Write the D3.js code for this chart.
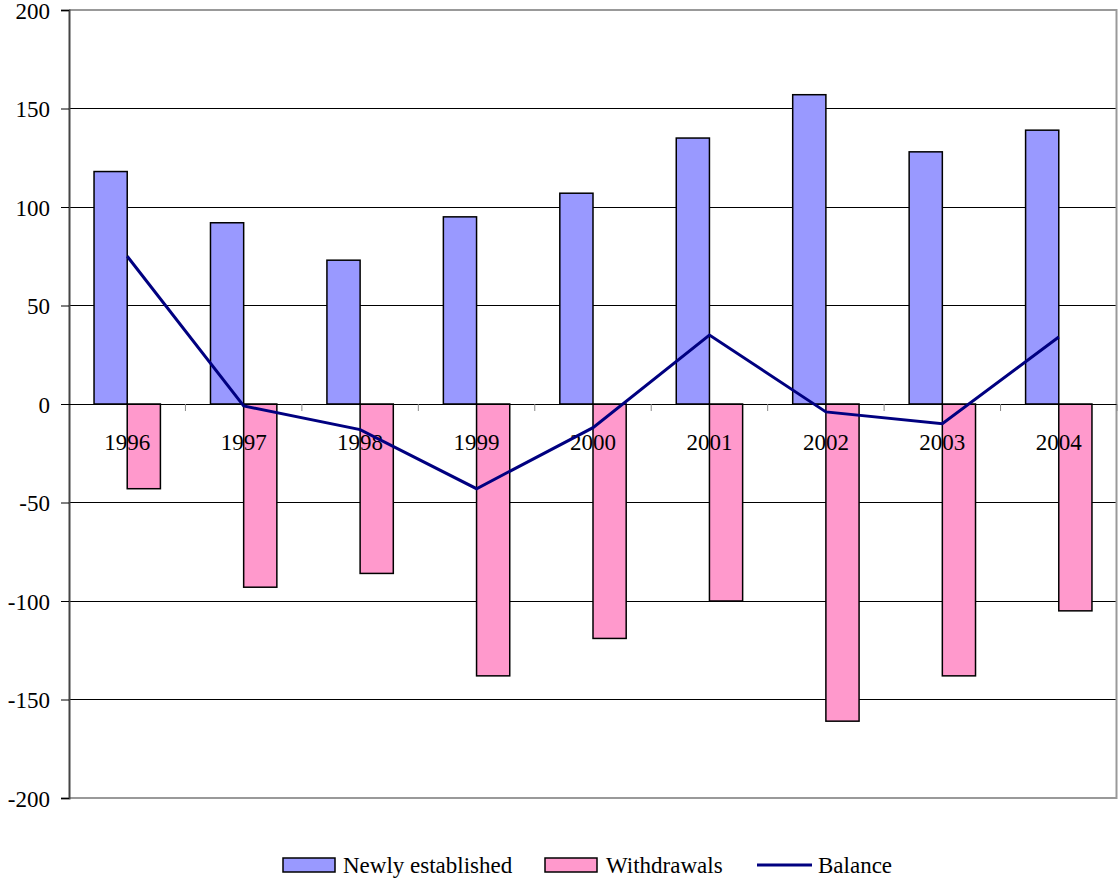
<!DOCTYPE html>
<html>
<head>
<meta charset="utf-8">
<script src="https://cdn.jsdelivr.net/npm/d3@7/dist/d3.min.js"></script>
<style>
  body { margin: 0; background: #fff; }
</style>
</head>
<body>
<svg id="canvas" width="1118" height="882"></svg>
<script>
const years = ["1996", "1997", "1998", "1999", "2000", "2001", "2002", "2003", "2004"];
const newlyEstablished = [118, 92, 73, 95, 107, 135, 157, 128, 139];
const withdrawals = [-43, -93, -86, -138, -119, -100, -161, -138, -105];
const balance = [75, -1, -13, -43, -12, 35, -4, -10, 34];
const yTicks = [-200, -150, -100, -50, 0, 50, 100, 150, 200];

const serif = "'Liberation Serif', 'Times New Roman', Times, 'DejaVu Serif', serif";
const margin = { top: 10, right: 1, bottom: 84, left: 69 };
const width = 1118, height = 882;
const svg = d3.select("#canvas");

const x = d3.scaleBand().domain(years).range([margin.left, width - margin.right]);
const y = d3.scaleLinear().domain([-200, 200]).range([height - margin.bottom, margin.top]);
const barW = x.bandwidth() * 0.285;

// gridlines
svg.append("g")
  .selectAll("line")
  .data(yTicks.filter(d => d > -200 && d < 200))
  .enter().append("line")
  .attr("x1", margin.left).attr("x2", width - margin.right)
  .attr("y1", d => y(d)).attr("y2", d => y(d))
  .attr("stroke", "#000").attr("stroke-width", 1).attr("shape-rendering", "crispEdges");

// plot border (top, right, bottom)
svg.append("path")
  .attr("d", `M${margin.left},${y(200)}H${width - margin.right - 0.5}V${y(-200)}H${margin.left}`)
  .attr("fill", "none").attr("stroke", "#999").attr("stroke-width", 2);

// bars
svg.append("g").selectAll("rect")
  .data(years)
  .enter().append("rect")
  .attr("x", d => x(d) + x.bandwidth() / 2 - barW)
  .attr("y", (d, i) => y(newlyEstablished[i]))
  .attr("width", barW)
  .attr("height", (d, i) => y(0) - y(newlyEstablished[i]))
  .attr("fill", "#9999ff").attr("stroke", "#000").attr("stroke-width", 1.5);

svg.append("g").selectAll("rect")
  .data(years)
  .enter().append("rect")
  .attr("x", d => x(d) + x.bandwidth() / 2)
  .attr("y", y(0))
  .attr("width", barW)
  .attr("height", (d, i) => y(withdrawals[i]) - y(0))
  .attr("fill", "#ff99cc").attr("stroke", "#000").attr("stroke-width", 1.5);

// y axis (plain hyphen for negatives, like the original)
const yAxis = d3.axisLeft(y).tickValues(yTicks).tickFormat(d => String(d)).tickSize(8).tickPadding(11);
const yg = svg.append("g").attr("transform", `translate(${margin.left},0)`).call(yAxis);
yg.attr("font-family", null).attr("font-size", null);
yg.select(".domain").attr("stroke", "#444").attr("stroke-width", 2);
yg.selectAll(".tick line").attr("stroke", "#000");
yg.selectAll("text").style("font-size", "23px").style("font-family", serif).attr("fill", "#000")
  .attr("dy", "0.36em");

// x axis at zero
const xAxis = d3.axisBottom(x).tickSize(0).tickPadding(30);
const xg = svg.append("g").attr("transform", `translate(0,${y(0)})`).call(xAxis);
xg.attr("font-family", null).attr("font-size", null);
xg.select(".domain").remove();
xg.selectAll("text").style("font-size", "23px").style("font-family", serif).attr("fill", "#000");
svg.append("line")
  .attr("x1", margin.left).attr("x2", width - margin.right)
  .attr("y1", y(0)).attr("y2", y(0))
  .attr("stroke", "#000").attr("shape-rendering", "crispEdges");
svg.append("g").selectAll("line")
  .data(years.slice(1).concat(["end"]))
  .enter().append("line")
  .attr("x1", d => d === "end" ? width - margin.right : x(d))
  .attr("x2", d => d === "end" ? width - margin.right : x(d))
  .attr("y1", y(0)).attr("y2", y(0) + 7)
  .attr("stroke", "#888");

// balance line
const line = d3.line()
  .x((d, i) => x(years[i]) + x.bandwidth() / 2)
  .y(d => y(d));
svg.append("path")
  .datum(balance)
  .attr("d", line)
  .attr("fill", "none").attr("stroke", "#000080").attr("stroke-width", 3);

// legend
const legend = svg.append("g").attr("transform", "translate(0,865)");
const items = [
  { label: "Newly established", type: "rect", color: "#9999ff", x: 283, tx: 343 },
  { label: "Withdrawals", type: "rect", color: "#ff99cc", x: 545, tx: 606 },
  { label: "Balance", type: "line", color: "#000080", x: 757, tx: 818 }
];
items.forEach(it => {
  if (it.type === "rect") {
    legend.append("rect").attr("x", it.x).attr("y", -7).attr("width", 52).attr("height", 14)
      .attr("fill", it.color).attr("stroke", "#000").attr("stroke-width", 1.5);
  } else {
    legend.append("line").attr("x1", it.x).attr("x2", it.x + 55).attr("y1", 0).attr("y2", 0)
      .attr("stroke", it.color).attr("stroke-width", 3);
  }
  legend.append("text").attr("x", it.tx).attr("y", 0).attr("dy", "0.35em")
    .style("font-size", "23px").style("font-family", serif).text(it.label);
});
</script>
</body>
</html>
